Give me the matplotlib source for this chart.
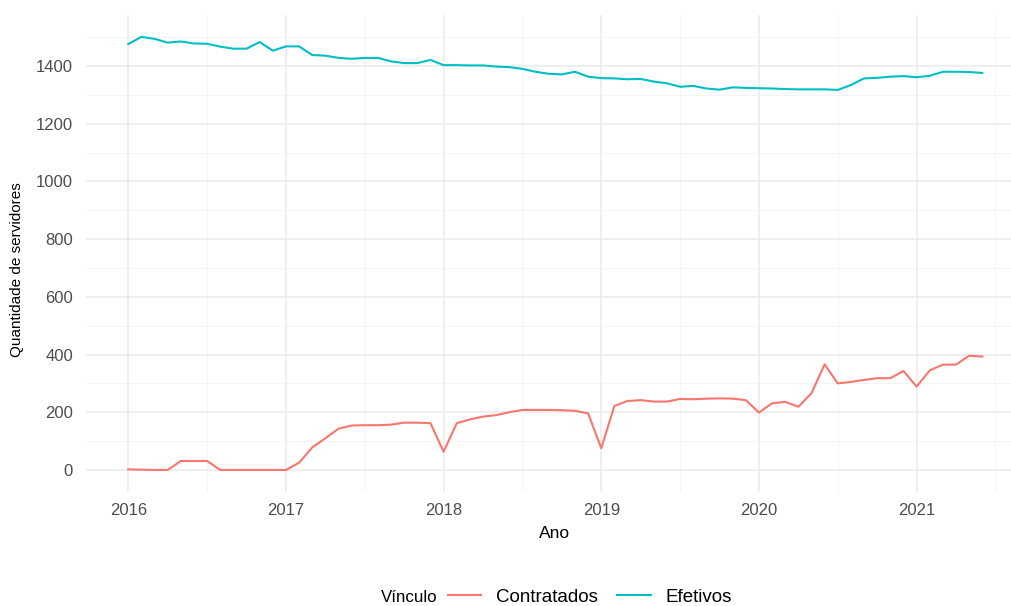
import numpy as np
import matplotlib
matplotlib.use("Agg")
import matplotlib.pyplot as plt
from matplotlib.lines import Line2D
from matplotlib.ticker import MultipleLocator

plt.rcParams['font.family'] = ['Liberation Sans', 'DejaVu Sans']

# Monthly series, Jan 2016 .. Jun 2021
start_year = 2016
n_months = 66
contratados = [2, 1, 0, 0, 31, 31, 31, 0, 0, 0, 0, 0,
               0, 25, 78, 110, 143, 154, 155, 155, 157, 164, 164, 162,
               63, 162, 175, 185, 190, 200, 208, 208, 208, 207, 205, 196,
               75, 222, 239, 242, 237, 237, 246, 245, 247, 248, 247, 242,
               199, 231, 236, 219, 266, 366, 300, 305, 312, 318, 318, 343,
               289, 345, 365, 365, 396, 393]
efetivos = [1476, 1501, 1494, 1481, 1485, 1478, 1477, 1467, 1460, 1460, 1483, 1453,
            1468, 1468, 1438, 1436, 1428, 1425, 1428, 1428, 1416, 1410, 1410, 1421,
            1403, 1403, 1402, 1402, 1398, 1396, 1390, 1380, 1373, 1371, 1380, 1363,
            1358, 1357, 1354, 1355, 1346, 1340, 1328, 1331, 1322, 1318, 1326, 1324,
            1323, 1322, 1320, 1319, 1319, 1319, 1317, 1334, 1357, 1359, 1363, 1365,
            1361, 1366, 1380, 1380, 1379, 1376]
series_names = ["Contratados", "Efetivos"]
series_colors = ["#F8766D", "#00BFC4"]
x_ticks = [2016, 2017, 2018, 2019, 2020, 2021]
y_ticks = [0, 200, 400, 600, 800, 1000, 1200, 1400]

t = start_year + np.arange(n_months) / 12.0

W, H = 1012, 606
fig = plt.figure(figsize=(W / 100, H / 100), dpi=100)
left, right, top, bottom = 85.6, 1025.0, 15.2, 491.6
ax = fig.add_axes([left / W, 1 - bottom / H, (right - left) / W, (bottom - top) / H])

for vals, name, col in zip([contratados, efetivos], series_names, series_colors):
    ax.plot(t, vals, color=col, lw=1.5, label=name, solid_joinstyle='round')

xr = t[-1] - t[0]
ax.set_xlim(t[0] - 0.05 * xr, t[-1] + 0.05 * xr)
yall = contratados + efetivos
yr = max(yall) - min(yall)
ax.set_ylim(min(yall) - 0.05 * yr, max(yall) + 0.05 * yr)

ax.set_xticks(x_ticks)
ax.set_xticklabels([str(v) for v in x_ticks])
ax.set_yticks(y_ticks)
ax.xaxis.set_minor_locator(MultipleLocator(0.5))
ax.yaxis.set_minor_locator(MultipleLocator(100))
ax.grid(which='major', color='#EBEBEB', lw=1.1)
ax.grid(which='minor', color='#F2F2F2', lw=0.6)
ax.set_axisbelow(True)
for s in ax.spines.values():
    s.set_visible(False)
ax.tick_params(which='both', length=0)
ax.tick_params(axis='x', labelsize=12, labelcolor='#4D4D4D', pad=8)
ax.tick_params(axis='y', labelsize=12, labelcolor='#4D4D4D', pad=9)

fig.text(555 / W, 1 - 533 / H, "Ano", ha='center', va='center', fontsize=12.5, color='black')
fig.text(17 / W, 1 - 270 / H, "Quantidade de servidores", ha='center', va='center',
         rotation=90, fontsize=11, color='black')

# legend
fig.text(381 / W, 1 - 597 / H, "Vínculo", ha='left', va='center', fontsize=12.2, color='black')
handles = [Line2D([0], [0], color=c, lw=1.5) for c in series_colors]
fig.legend(handles, series_names, loc='center', bbox_to_anchor=(590 / W, 1 - 597 / H),
           ncol=2, frameon=False, fontsize=13.5, handlelength=1.8, handletextpad=0.8,
           columnspacing=1.0, borderpad=0, borderaxespad=0)

fig.savefig("out.png", dpi=100, facecolor='white')
